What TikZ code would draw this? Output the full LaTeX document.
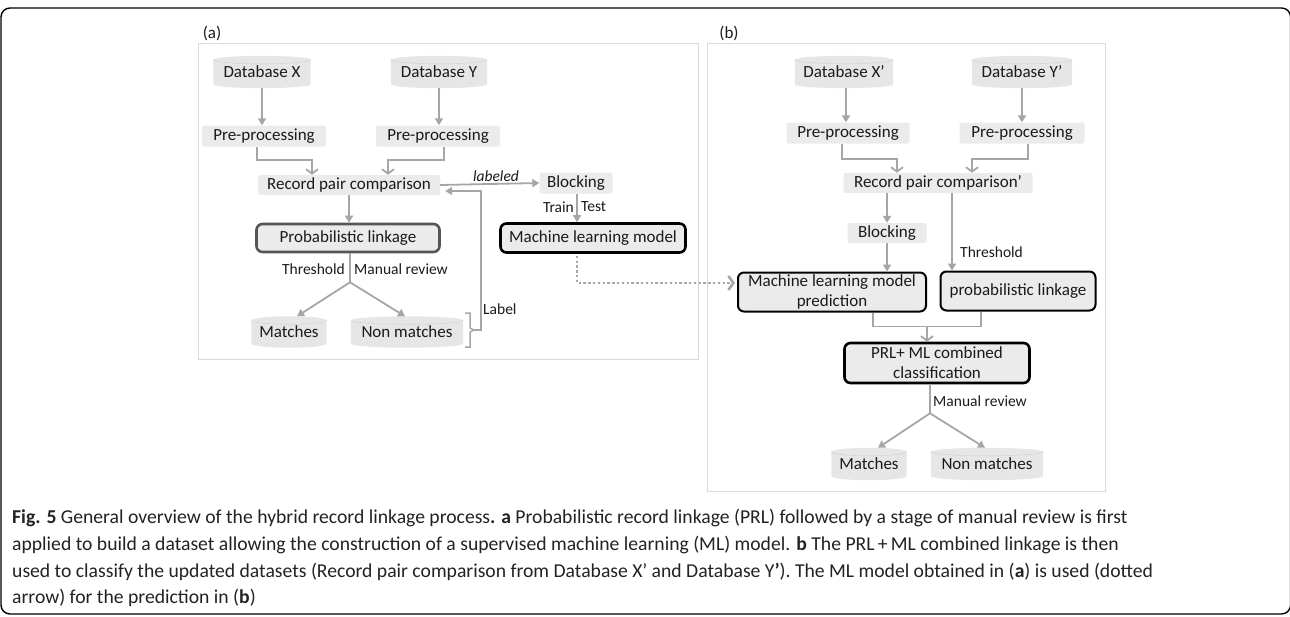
\documentclass[tikz,border=0pt]{standalone}
\usepackage{fontspec}
\setmainfont{Carlito}
\usetikzlibrary{arrows.meta,calc,backgrounds}
\definecolor{arrgray}{HTML}{A6A6A6}
\definecolor{boxfill}{HTML}{EBEBEB}
\definecolor{cylfill}{HTML}{E6E6E6}
\definecolor{cylrim}{HTML}{D6D6D6}
\definecolor{panelgray}{HTML}{DADADA}
\definecolor{darkbord}{HTML}{555555}
\definecolor{txt}{HTML}{1A1A1A}
\definecolor{captxt}{HTML}{222222}
\newcommand{\drawcan}[1]{%
  \fill[cylfill] let \p1=(#1.north west), \p2=(#1.south east), \n1={(\x2-\x1)/2} in
    (\x1,\y1) -- (\x1,\y2) arc[start angle=180, end angle=360, x radius=\n1, y radius=4pt]
    -- (\x2,\y1) arc[start angle=0, end angle=180, x radius=\n1, y radius=4pt] -- cycle;
  \draw[cylrim, line width=0.6pt] let \p1=(#1.north west), \p2=(#1.south east), \n1={(\x2-\x1)/2} in
    (\x1,\y1) arc[start angle=180, end angle=360, x radius=\n1, y radius=4pt];
}
\begin{document}
\begin{tikzpicture}[x=1pt,y=-1pt,
  every node/.style={font=\fontsize{17}{20}\selectfont, text=txt},
  plainbox/.style={rectangle, fill=boxfill, rounded corners=2pt, inner sep=0pt, minimum height=21pt},
  dbnode/.style={rectangle, inner sep=0pt, minimum height=24pt},
  thickbox/.style={rectangle, draw=black, line width=2.6pt, fill=boxfill, rounded corners=6pt, inner sep=0pt, align=center},
  arr/.style={draw=arrgray, line width=1.8pt, -{Triangle[length=7pt,width=8pt]}},
  elb/.style={draw=arrgray, line width=1.8pt, -{Straight Barb[length=4.5pt,width=12pt]}},
  ln/.style={draw=arrgray, line width=1.8pt},
  lbl/.style={font=\fontsize{15.5}{18}\selectfont, inner sep=0pt},
  dotarr/.style={draw=arrgray, line width=2.6pt, dash pattern=on 2.4pt off 2.4pt, -{Straight Barb[length=5pt,width=14pt]}},
  panel/.style={draw=panelgray, line width=0.8pt},
  captext/.style={font=\fontsize{19.65}{24}\selectfont, text=captxt, inner sep=0pt}
]
\useasboundingbox (0,0) rectangle (1290,616);
\draw[line width=1.4pt, rounded corners=9pt] (1,8) rectangle (1290.6,614);

% panels
\draw[panel] (198,43) rectangle (698,359);
\draw[panel] (707,43) rectangle (1105,491);
\node (pa) at (212,33) {(a)};
\node (pb) at (729,33) {(b)};

% ---------- panel (a) ----------
\node[dbnode, minimum width=97pt] (dbX) at (262,72) {Database X};
\node[dbnode, minimum width=96pt] (dbY) at (439,72) {Database Y};
\node[plainbox, minimum width=124pt] (preX) at (264,136) {Pre-processing};
\node[plainbox, minimum width=124pt] (preY) at (438,136) {Pre-processing};
\node[plainbox, minimum width=182pt, minimum height=20pt] (rpc) at (349,185) {Record pair comparison};
\node[plainbox, minimum width=73pt] (blockA) at (576,183) {Blocking};
\node[thickbox, draw=darkbord, minimum width=183pt, minimum height=28pt] (probA) at (348,238) {Probabilistic linkage};
\node[thickbox, minimum width=185pt, minimum height=29pt] (mlA) at (593,238) {Machine learning model};
\node[dbnode, minimum width=75pt, minimum height=23pt] (matchA) at (289,332) {Matches};
\node[dbnode, minimum width=112pt, minimum height=23pt] (nonA) at (407,332) {Non matches};

\draw[arr] ([yshift=-4pt]dbX.south) -- (dbX.south |- preX.north);
\draw[arr] ([yshift=-4pt]dbY.south) -- (dbY.south |- preY.north);
\draw[elb] ([xshift=-7pt]preX.south) -- ++(0,13) -| ([xshift=-37pt]rpc.north);
\draw[elb] ([xshift=6pt]preY.south) -- ++(0,13) -| ([xshift=39pt]rpc.north);
\draw[arr] (rpc.east) -- (blockA.west);
\node[lbl, font=\fontsize{15.5}{18}\selectfont\itshape] (lab) at (496,176) {labeled};
\draw[arr] (rpc.south) -- (rpc.south |- probA.north);
\draw[arr] ([xshift=1pt]blockA.south) -- ([xshift=1pt]blockA.south |- mlA.north);
\node[lbl, anchor=east] (train) at (574,207) {Train};
\node[lbl, anchor=west] (test) at (581,207) {Test};
\draw[ln] ([xshift=2pt]probA.south) -- ++(0,29) coordinate (brA);
\draw[arr] (brA) -- ([xshift=8pt,yshift=4pt]matchA.north);
\draw[arr] (brA) -- ([xshift=-2pt,yshift=4pt]nonA.north);
\node[lbl, anchor=east] (thrA) at (345,269) {Threshold};
\node[lbl, anchor=west] (manA) at (354,269) {Manual review};
\draw[arrgray, line width=1.5pt] (465,313) -- (470,313) -- (470,328) -- (474,330) -- (470,332) -- (470,347) -- (465,347);
\coordinate (brk) at (474,330);
\draw[arr] (brk) -- ++(7,0) |- ([xshift=5pt,yshift=-6pt]rpc.east);
\node[lbl, anchor=west] (labl) at (483,309) {Label};

% ---------- panel (b) ----------
\node[dbnode, minimum width=98pt] (dbXb) at (844,72) {Database X’};
\node[dbnode, minimum width=100pt] (dbYb) at (1022,72) {Database Y’};
\node[plainbox, minimum width=123pt] (preXb) at (848,133) {Pre-processing};
\node[plainbox, minimum width=125pt] (preYb) at (1022,133) {Pre-processing};
\node[plainbox, minimum width=189pt, minimum height=20pt] (rpcb) at (938,183) {Record pair comparison’};
\node[plainbox, minimum width=79pt, minimum height=20pt] (blockB) at (887,233) {Blocking};
\node[thickbox, line width=2pt, minimum width=188pt, minimum height=39pt] (mlB) at (832,292) {Machine learning model\\prediction};
\node[thickbox, line width=2pt, minimum width=155pt, minimum height=39pt] (probB) at (1018,291) {probabilistic linkage};
\node[thickbox, minimum width=185pt, minimum height=40pt] (prl) at (937,363) {PRL+ ML combined\\classification};
\node[dbnode, minimum width=75pt] (matchB) at (869,464) {Matches};
\node[dbnode, minimum width=112pt] (nonB) at (987,464) {Non matches};

\draw[arr] ([xshift=2pt,yshift=-4pt]dbXb.south) -- ([xshift=2pt]dbXb.south |- preXb.north);
\draw[arr] ([yshift=-4pt]dbYb.south) -- (dbYb.south |- preYb.north);
\draw[elb] ([xshift=-6pt]preXb.south) -- ++(0,15) -| ([xshift=-41pt]rpcb.north);
\draw[elb] ([xshift=6pt]preYb.south) -- ++(0,15) -| ([xshift=34pt]rpcb.north);
\draw[arr] (rpcb.south -| blockB.north) -- (blockB.north);
\draw[arr] ([xshift=14pt]rpcb.south) -- ([xshift=14pt]rpcb.south |- probB.north);
\node[lbl, anchor=west] (thrB) at (960,252) {Threshold};
\draw[arr] (blockB.south) -- (blockB.south |- mlB.north);
\draw[ln] ([xshift=41pt]mlB.south) -- ++(0,14) -| ([xshift=-37pt]probB.south);
\coordinate (mg) at (927,326.5);
\draw[elb] (mg) -- (mg |- prl.north);
\draw[ln] ([xshift=-7pt]prl.south) -- ++(0,29) coordinate (brB);
\draw[arr] (brB) -- ([xshift=9pt,yshift=4pt]matchB.north);
\draw[arr] (brB) -- ([xshift=-2pt,yshift=4pt]nonB.north);
\node[lbl, anchor=west] (manB) at (933,401) {Manual review};

% dotted link
\draw[dotarr] ([xshift=-16pt,yshift=-2pt]mlA.south) |- ([yshift=9pt,xshift=-2pt]mlB.west);

% cylinders
\begin{scope}[on background layer]
\drawcan{dbX}\drawcan{dbY}\drawcan{matchA}\drawcan{nonA}
\drawcan{dbXb}\drawcan{dbYb}\drawcan{matchB}\drawcan{nonB}
\end{scope}

% caption
\node[captext, anchor=base west] (c1) at (12,523) {\textbf{Fig. 5} General overview of the hybrid record linkage process\textbf{.} \textbf{a} Probabilistic record linkage (PRL) followed by a stage of manual review is first};
\node[captext, anchor=base west] (c2) at (12,550) {applied to build a dataset allowing the construction of a supervised machine learning (ML) model. \textbf{b} The PRL\,+\,ML combined linkage is then};
\node[captext, anchor=base west] (c3) at (12,577) {used to classify the updated datasets (Record pair comparison from Database X’ and Database Y\textbf{’}). The ML model obtained in (\textbf{a}) is used (dotted};
\node[captext, anchor=base west] (c4) at (12,603) {arrow) for the prediction in (\textbf{b})};
\end{tikzpicture}
\end{document}
